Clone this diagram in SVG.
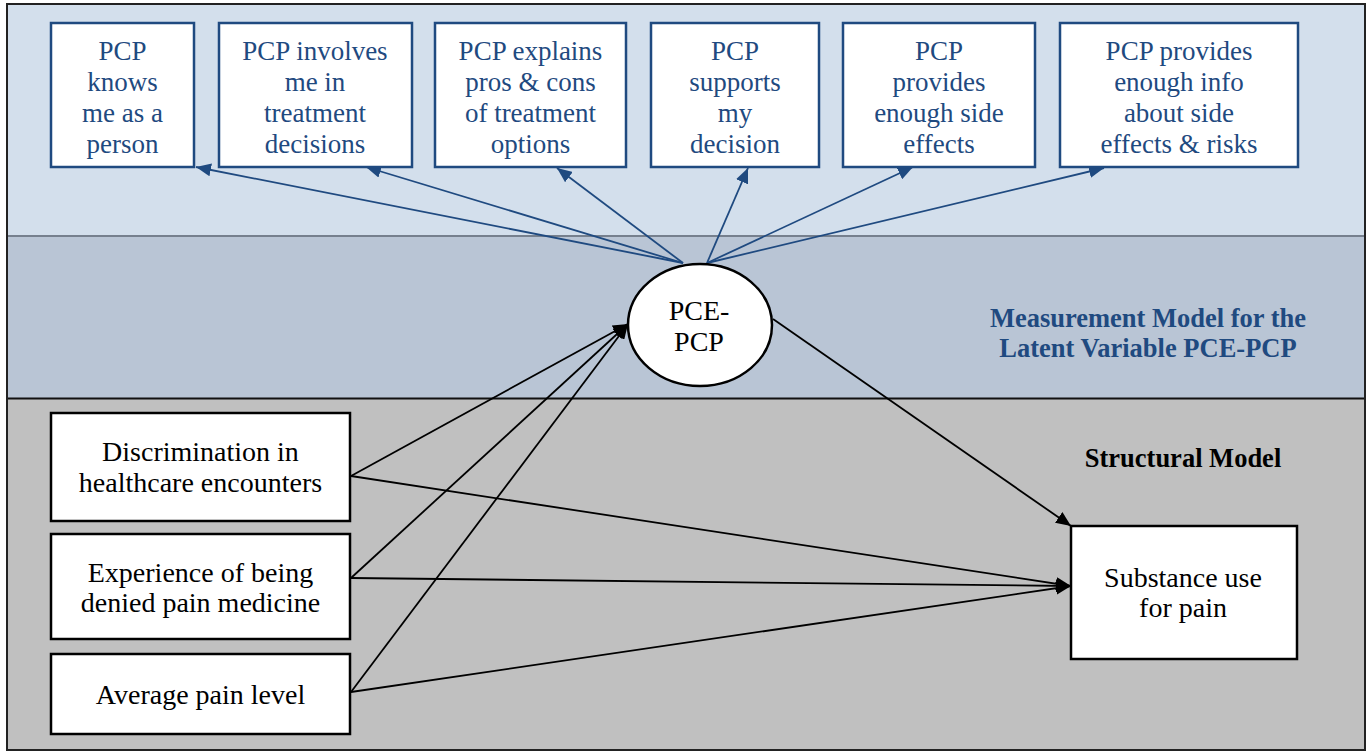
<svg xmlns="http://www.w3.org/2000/svg" width="1368" height="752" viewBox="0 0 1368 752">
<style>
.bt{font-family:"Liberation Serif",serif;font-size:27px;fill:#1F4A80;text-anchor:middle}
.kt{font-family:"Liberation Serif",serif;font-size:28px;fill:#000;text-anchor:middle}
.bbox{fill:#fff;stroke:#1F4A80;stroke-width:2.5}
.kbox{fill:#fff;stroke:#000;stroke-width:2.5}
.bl{stroke:#1F4A80;stroke-width:1.8;fill:none;marker-end:url(#ab)}
.kl{stroke:#000;stroke-width:1.8;fill:none;marker-end:url(#ak)}
.lab{font-family:"Liberation Serif",serif;font-size:26.5px;font-weight:bold;text-anchor:middle}
</style>
<defs>
<marker id="ab" markerUnits="userSpaceOnUse" markerWidth="16" markerHeight="13" refX="15" refY="6.5" orient="auto"><path d="M0,0 L15,6.5 L0,13 z" fill="#1F4A80"/></marker>
<marker id="ak" markerUnits="userSpaceOnUse" markerWidth="16" markerHeight="13" refX="15" refY="6.5" orient="auto"><path d="M0,0 L15,6.5 L0,13 z" fill="#000"/></marker>
</defs>
<g id="background">
<rect x="7" y="4" width="1358" height="232" fill="#D3DFEC"/>
<rect x="7" y="236" width="1358" height="162" fill="#B9C5D5"/>
<rect x="7" y="398" width="1358" height="352" fill="#C0C0C0"/>
<line x1="7" y1="236" x2="1365" y2="236" stroke="#76808E" stroke-width="2"/>
<line x1="7" y1="398.5" x2="1365" y2="398.5" stroke="#111" stroke-width="2"/>
<rect x="7" y="4" width="1358" height="746" fill="none" stroke="#222" stroke-width="2"/>
</g>
<g id="labels">
<text class="lab" fill="#1F4A80" x="1148" y="327">Measurement Model for the</text>
<text class="lab" fill="#1F4A80" x="1148" y="357">Latent Variable PCE-PCP</text>
<text class="lab" fill="#000" x="1183" y="467">Structural Model</text>
</g>
<g id="connectors">
<line class="bl" x1="683" y1="263" x2="196" y2="167"/>
<line class="bl" x1="683" y1="263" x2="366" y2="167"/>
<line class="bl" x1="683" y1="263" x2="557" y2="168"/>
<line class="bl" x1="707" y1="263" x2="748" y2="168"/>
<line class="bl" x1="707" y1="263" x2="913" y2="167"/>
<line class="bl" x1="707" y1="263" x2="1104" y2="168"/>
<line class="kl" x1="351" y1="476" x2="628" y2="324"/>
<line class="kl" x1="351" y1="578" x2="628" y2="324"/>
<line class="kl" x1="351" y1="692" x2="628" y2="324"/>
<line class="kl" x1="351" y1="476" x2="1071" y2="586"/>
<line class="kl" x1="351" y1="578" x2="1071" y2="586"/>
<line class="kl" x1="351" y1="692" x2="1071" y2="586"/>
<line class="kl" x1="773" y1="319" x2="1071" y2="526"/>
</g>
<g id="n1"><rect class="bbox" x="51" y="23" width="143" height="144"/>
<text class="bt" x="122.5" y="60">PCP</text><text class="bt" x="122.5" y="91">knows</text><text class="bt" x="122.5" y="122">me as a</text><text class="bt" x="122.5" y="153">person</text></g>
<g id="n2"><rect class="bbox" x="219" y="23" width="193" height="144"/>
<text class="bt" x="315" y="60">PCP involves</text><text class="bt" x="315" y="91">me in</text><text class="bt" x="315" y="122">treatment</text><text class="bt" x="315" y="153">decisions</text></g>
<g id="n3"><rect class="bbox" x="435" y="23" width="191" height="144"/>
<text class="bt" x="530.5" y="60">PCP explains</text><text class="bt" x="530.5" y="91">pros &amp; cons</text><text class="bt" x="530.5" y="122">of treatment</text><text class="bt" x="530.5" y="153">options</text></g>
<g id="n4"><rect class="bbox" x="651" y="23" width="168" height="144"/>
<text class="bt" x="735" y="60">PCP</text><text class="bt" x="735" y="91">supports</text><text class="bt" x="735" y="122">my</text><text class="bt" x="735" y="153">decision</text></g>
<g id="n5"><rect class="bbox" x="843" y="23" width="192" height="144"/>
<text class="bt" x="939" y="60">PCP</text><text class="bt" x="939" y="91">provides</text><text class="bt" x="939" y="122">enough side</text><text class="bt" x="939" y="153">effects</text></g>
<g id="n6"><rect class="bbox" x="1060" y="23" width="238" height="144"/>
<text class="bt" x="1179" y="60">PCP provides</text><text class="bt" x="1179" y="91">enough info</text><text class="bt" x="1179" y="122">about side</text><text class="bt" x="1179" y="153">effects &amp; risks</text></g>
<g id="pce"><ellipse cx="700" cy="325" rx="72" ry="61" fill="#fff" stroke="#000" stroke-width="2.5"/>
<text class="kt" x="699" y="320">PCE-</text><text class="kt" x="699" y="351">PCP</text></g>
<g id="disc"><rect class="kbox" x="51" y="413" width="299" height="108"/>
<text class="kt" x="200.5" y="461">Discrimination in</text><text class="kt" x="200.5" y="492">healthcare encounters</text></g>
<g id="denied"><rect class="kbox" x="51" y="534" width="299" height="105"/>
<text class="kt" x="200.5" y="582">Experience of being</text><text class="kt" x="200.5" y="612">denied pain medicine</text></g>
<g id="pain"><rect class="kbox" x="51" y="654" width="299" height="80"/>
<text class="kt" x="200.5" y="704">Average pain level</text></g>
<g id="subst"><rect class="kbox" x="1071" y="526" width="226" height="133"/>
<text class="kt" x="1183" y="587">Substance use</text><text class="kt" x="1183" y="617">for pain</text></g>
</svg>
